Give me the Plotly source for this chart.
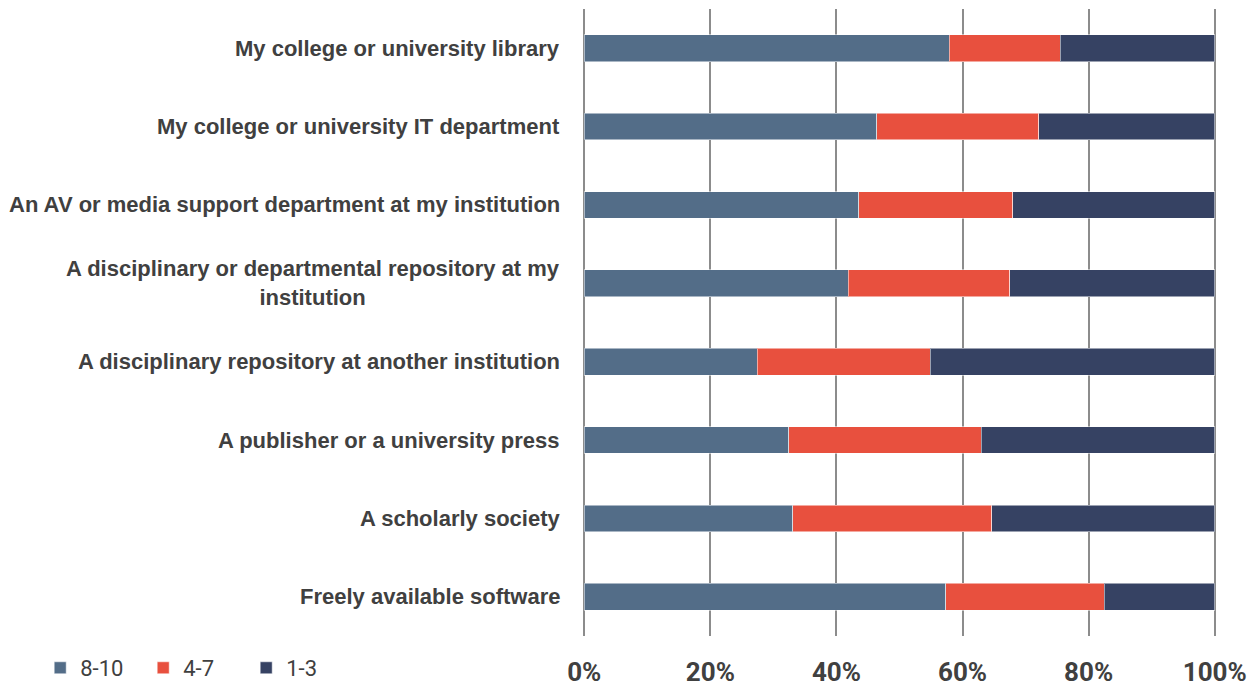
import plotly.graph_objects as go

categories = [
    "My college or university library",
    "My college or university IT department",
    "An AV or media support department at my institution",
    "A disciplinary or departmental repository at my<br>institution",
    "A disciplinary repository at another institution",
    "A publisher or a university press",
    "A scholarly society",
    "Freely available software",
]
high_8_10 = [57.9, 46.4, 43.5, 41.9, 27.4, 32.4, 33.1, 57.3]
mid_4_7 = [17.6, 25.7, 24.5, 25.6, 27.5, 30.6, 31.5, 25.2]
low_1_3 = [24.5, 27.9, 32.0, 32.5, 45.1, 37.0, 35.4, 17.5]
series_names = ["8-10", "4-7", "1-3"]
series_colors = ["#536D88", "#E8503E", "#364263"]
x_ticks = [0, 20, 40, 60, 80, 100]

label_font = "Liberation Sans, Arial, sans-serif"
tick_font = "Roboto, Liberation Sans, Arial, sans-serif"
txt_color = "#404040"

fig = go.Figure()
for name, vals, col in zip(series_names, [high_8_10, mid_4_7, low_1_3], series_colors):
    fig.add_trace(go.Bar(
        y=categories, x=[v / 100 for v in vals], name=name, orientation="h",
        marker=dict(color=col, line=dict(color="rgba(255,255,255,0.5)", width=1)),
    ))

for c in categories:
    fig.add_annotation(
        x=0, xref="paper", y=c, yref="y", text="<b>" + c + "</b>",
        showarrow=False, xanchor="right", align="center", xshift=-21,
        font=dict(family=label_font, size=22, color=txt_color),
    )

fig.update_layout(
    barmode="stack",
    bargap=0.66,
    width=1256, height=689,
    margin=dict(l=583, r=40, t=9, b=53, autoexpand=False),
    paper_bgcolor="white", plot_bgcolor="white",
    xaxis=dict(
        range=[-0.002, 1.002], tickvals=[t / 100 for t in x_ticks],
        ticktext=["<b>%d%%</b>" % t for t in x_ticks],
        showgrid=True, gridcolor="#8C8C8C", gridwidth=2, zeroline=False,
        showline=False, ticks="", ticklabelstandoff=18, automargin=False,
        tickfont=dict(family=tick_font, size=26, color=txt_color),
    ),
    yaxis=dict(
        categoryorder="array", categoryarray=categories, autorange="reversed",
        showticklabels=False, showgrid=False, zeroline=False, showline=False,
        automargin=False,
    ),
    legend=dict(
        orientation="h", x=-0.8575, xanchor="left", y=-0.0845, yanchor="bottom",
        font=dict(family=tick_font, size=22, color=txt_color),
        traceorder="normal", entrywidth=58, entrywidthmode="pixels",
    ),
    showlegend=True,
)

fig.write_html(
    "out.html",
    config={"displayModeBar": False},
    post_script="document.body.style.margin='0';document.body.style.overflow='hidden';",
)
